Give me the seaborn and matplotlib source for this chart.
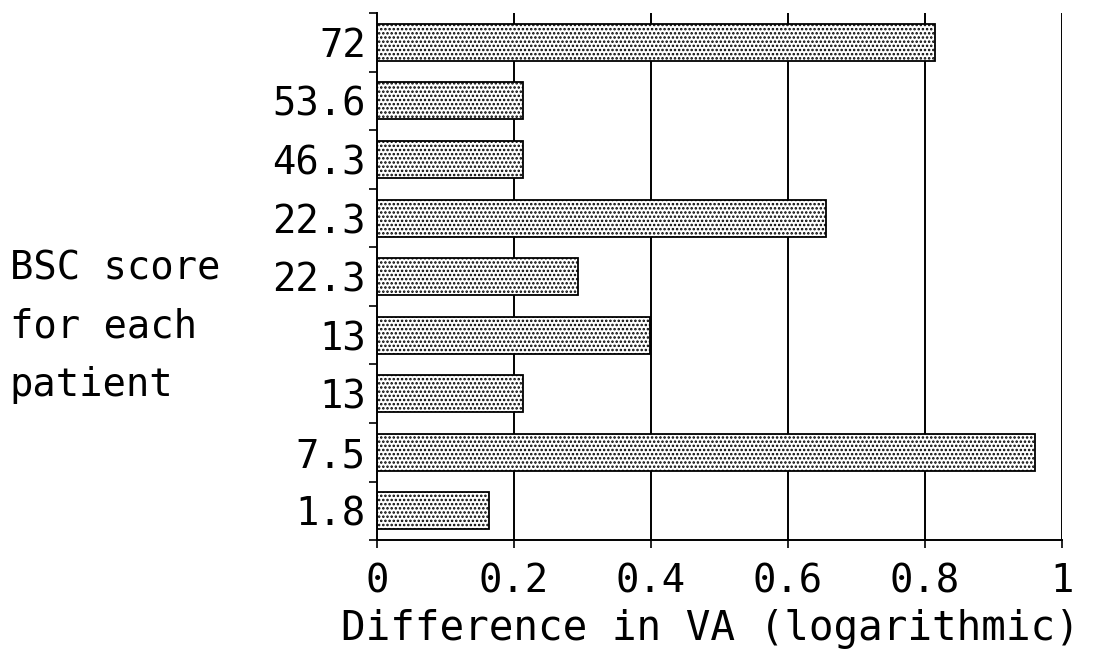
import pandas as pd
import seaborn as sns
import matplotlib.pyplot as plt
import numpy as np

# BSC score per patient (top to bottom) and difference in VA
scores = ['72', '53.6', '46.3', '22.3', '22.3', '13', '13', '7.5', '1.8']
va_diff = [0.815, 0.213, 0.213, 0.655, 0.293, 0.399, 0.213, 0.96, 0.163]
xticks = [0, 0.2, 0.4, 0.6, 0.8, 1]
xtick_labels = ['0', '0.2', '0.4', '0.6', '0.8', '1']

df = pd.DataFrame({'patient': ['p%d' % i for i in range(len(scores))],
                   'va': va_diff})

sns.set_style('white', {'xtick.bottom': True, 'ytick.left': True,
                        'text.color': 'black', 'xtick.color': 'black',
                        'ytick.color': 'black', 'axes.labelcolor': 'black'})
plt.rcParams['font.family'] = ['DejaVu Sans Mono']
plt.rcParams['hatch.linewidth'] = 1.2

fig = plt.figure(figsize=(10.97, 6.54), dpi=100)
ax = fig.add_axes([0.3437, 0.174, 0.9681 - 0.3437, 0.806])

sns.barplot(data=df, x='va', y='patient', orient='h', ax=ax,
            color='white', edgecolor='black', linewidth=1.3,
            hatch='....', width=0.63)

ax.set_xlim(0, 1)
ax.set_ylim(len(scores) - 0.5, -0.5)
ax.set_xticks(xticks)
ax.set_xticklabels(xtick_labels, fontsize=28)
ax.set_yticks(range(len(scores)))
ax.set_yticklabels(scores, fontsize=28)
ax.set_yticks(np.arange(-0.5, len(scores), 1), minor=True)
ax.tick_params(axis='y', which='major', left=True, length=0, pad=8)
ax.tick_params(axis='y', which='minor', left=True, length=6, width=1.2,
               color='black', direction='out')
ax.tick_params(axis='x', bottom=True, length=6, width=1.2, color='black', pad=10)

for x in xticks[1:]:
    ax.axvline(x, color='black', linewidth=1.4, zorder=0)

for s in ['top', 'right']:
    ax.spines[s].set_visible(False)
for s in ['left', 'bottom']:
    ax.spines[s].set_color('black')
    ax.spines[s].set_linewidth(1.4)

ax.set_ylabel('')
ax.set_xlabel('Difference in VA (logarithmic)', fontsize=29.5, color='black')
ax.xaxis.set_label_coords(0.486, -0.13)

fig.text(0.009, 1 - 268 / 654, 'BSC score', fontsize=28, va='center', ha='left', color='black')
fig.text(0.009, 1 - 326 / 654, 'for each', fontsize=28, va='center', ha='left', color='black')
fig.text(0.009, 1 - 385 / 654, 'patient', fontsize=28, va='center', ha='left', color='black')

fig.savefig('out.png', dpi=100)
